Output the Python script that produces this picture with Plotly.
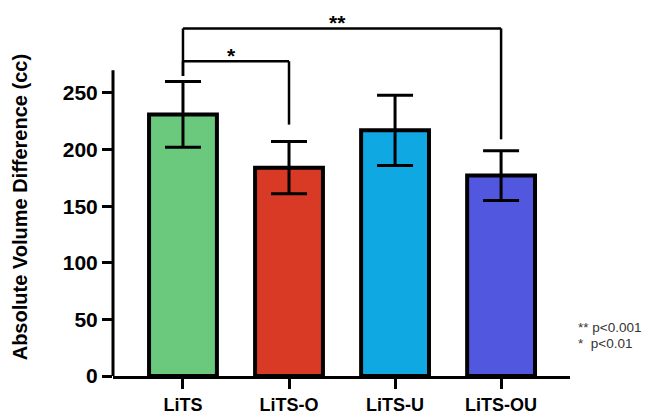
import plotly.graph_objects as go

categories = ["LiTS", "LiTS-O", "LiTS-U", "LiTS-OU"]
means = [231, 184, 217, 177]
errors = [29, 23, 31, 22]
colors = ["#6BC97E", "#D93A26", "#10A8E2", "#5257E0"]
y_ticks = [0, 50, 100, 150, 200, 250]
y_axis_top = 270
# significance brackets: left index, right index, bar height, left end, right end, label
bracket_left = [0, 0]
bracket_right = [1, 3]
bracket_top = [278, 307]
bracket_left_end = [265, 265]
bracket_right_end = [222, 209]
bracket_labels = ["*", "**"]
p_notes = ["** p<0.001", "*  p<0.01"]
p_note_y = [43, 29]

FONT = "Liberation Sans, Arial, sans-serif"

fig = go.Figure()
fig.add_trace(go.Bar(
    x=categories, y=means,
    width=0.64,
    marker=dict(color=colors, line=dict(color="black", width=4)),
    error_y=dict(type="data", array=errors, visible=True, color="black",
                 thickness=3, width=18),
    showlegend=False,
))

shapes = []
# y axis line (only up to the top of the value scale)
shapes.append(dict(type="line", xref="paper", yref="y", x0=0, x1=0, y0=0, y1=y_axis_top,
                   line=dict(color="black", width=3)))
annotations = []
for li, ri, top, le, re, lab in zip(bracket_left, bracket_right, bracket_top,
                                     bracket_left_end, bracket_right_end, bracket_labels):
    shapes.append(dict(type="line", xref="x", yref="y", x0=li, x1=li, y0=le, y1=top,
                       line=dict(color="black", width=2.5)))
    shapes.append(dict(type="line", xref="x", yref="y", x0=li, x1=ri, y0=top, y1=top,
                       line=dict(color="black", width=2.5)))
    shapes.append(dict(type="line", xref="x", yref="y", x0=ri, x1=ri, y0=top, y1=re,
                       line=dict(color="black", width=2.5)))
    annotations.append(dict(x=(li + ri) / 2 - 0.04, y=top, xref="x", yref="y", text=lab,
                            showarrow=False, yanchor="bottom", yshift=-8,
                            font=dict(family=FONT, size=21, color="black", weight="bold")))

for txt, yy in zip(p_notes, p_note_y):
    annotations.append(dict(x=1.013, y=yy, xref="paper", yref="y", text=txt,
                            showarrow=False, xanchor="left", yanchor="middle",
                            font=dict(family=FONT, size=13.5, color="#333333")))

annotations.append(dict(x=-0.2035, y=149, xref="paper", yref="y",
                        text="Absolute Volume Difference (cc)", textangle=-90,
                        showarrow=False, xanchor="center", yanchor="middle",
                        font=dict(family=FONT, size=20, color="black", weight="bold")))

fig.update_layout(
    width=654, height=416,
    margin=dict(l=113, r=84, t=8, b=40, autoexpand=False),
    paper_bgcolor="white", plot_bgcolor="white",
    shapes=shapes, annotations=annotations,
    font=dict(family=FONT, color="black"),
    xaxis=dict(
        type="category", range=[-0.66, 3.65], automargin=False,
        showline=True, linecolor="black", linewidth=3,
        ticks="outside", ticklen=10, tickwidth=3, tickcolor="black",
        ticklabelstandoff=0,
        showgrid=False, zeroline=False,
        tickfont=dict(family=FONT, size=18, color="black", weight="bold"),
    ),
    yaxis=dict(
        range=[0, 325], tickvals=y_ticks, automargin=False,
        showline=False, ticks="outside", ticklen=10, tickwidth=3, tickcolor="black",
        showgrid=False, zeroline=False,
        tickfont=dict(family=FONT, size=21, color="black", weight="bold"),
    ),
)

fig.write_html("out.html")
